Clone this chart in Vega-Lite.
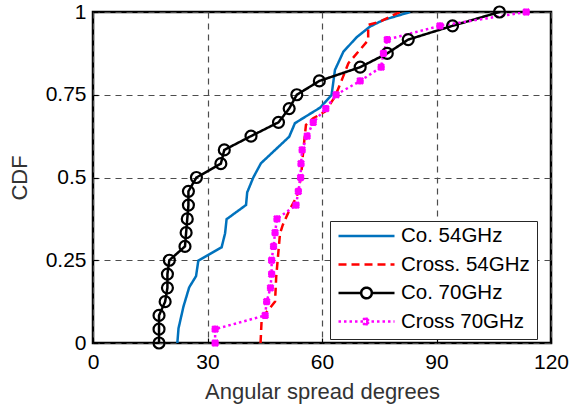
{
  "$schema": "https://vega.github.io/schema/vega-lite/v6.json",
  "width": 458,
  "height": 331,
  "autosize": {"type": "none"},
  "padding": {"left": 93, "top": 12, "right": 18, "bottom": 67},
  "background": "white",
  "config": {
    "font": "Liberation Sans",
    "view": {"stroke": "black", "strokeWidth": 2.5}
  },
  "datasets": {
    "curves": [
      {"series": "Co. 54GHz", "x": 22.1, "y": 0},
      {"series": "Co. 54GHz", "x": 22.4, "y": 0.044},
      {"series": "Co. 54GHz", "x": 23.7, "y": 0.11},
      {"series": "Co. 54GHz", "x": 25.2, "y": 0.168},
      {"series": "Co. 54GHz", "x": 27.0, "y": 0.202},
      {"series": "Co. 54GHz", "x": 27.6, "y": 0.249},
      {"series": "Co. 54GHz", "x": 33.7, "y": 0.289},
      {"series": "Co. 54GHz", "x": 34.6, "y": 0.331},
      {"series": "Co. 54GHz", "x": 35.0, "y": 0.374},
      {"series": "Co. 54GHz", "x": 40.1, "y": 0.417},
      {"series": "Co. 54GHz", "x": 40.4, "y": 0.455},
      {"series": "Co. 54GHz", "x": 42.0, "y": 0.5},
      {"series": "Co. 54GHz", "x": 44.0, "y": 0.543},
      {"series": "Co. 54GHz", "x": 51.4, "y": 0.623},
      {"series": "Co. 54GHz", "x": 52.9, "y": 0.664},
      {"series": "Co. 54GHz", "x": 59.5, "y": 0.711},
      {"series": "Co. 54GHz", "x": 62.5, "y": 0.749},
      {"series": "Co. 54GHz", "x": 63.4, "y": 0.825},
      {"series": "Co. 54GHz", "x": 65.6, "y": 0.88},
      {"series": "Co. 54GHz", "x": 69.1, "y": 0.924},
      {"series": "Co. 54GHz", "x": 72.6, "y": 0.956},
      {"series": "Co. 54GHz", "x": 76.1, "y": 0.976},
      {"series": "Co. 54GHz", "x": 83.1, "y": 1.0},
      {"series": "Cross. 54GHz", "x": 43.9, "y": 0},
      {"series": "Cross. 54GHz", "x": 44.2, "y": 0.075},
      {"series": "Cross. 54GHz", "x": 47.7, "y": 0.125},
      {"series": "Cross. 54GHz", "x": 48.0, "y": 0.2},
      {"series": "Cross. 54GHz", "x": 49.0, "y": 0.331},
      {"series": "Cross. 54GHz", "x": 49.7, "y": 0.356},
      {"series": "Cross. 54GHz", "x": 51.4, "y": 0.4},
      {"series": "Cross. 54GHz", "x": 53.4, "y": 0.442},
      {"series": "Cross. 54GHz", "x": 54.5, "y": 0.5},
      {"series": "Cross. 54GHz", "x": 55.1, "y": 0.583},
      {"series": "Cross. 54GHz", "x": 55.8, "y": 0.659},
      {"series": "Cross. 54GHz", "x": 57.7, "y": 0.679},
      {"series": "Cross. 54GHz", "x": 60.8, "y": 0.699},
      {"series": "Cross. 54GHz", "x": 63.4, "y": 0.744},
      {"series": "Cross. 54GHz", "x": 65.2, "y": 0.795},
      {"series": "Cross. 54GHz", "x": 66.9, "y": 0.845},
      {"series": "Cross. 54GHz", "x": 72.1, "y": 0.915},
      {"series": "Cross. 54GHz", "x": 72.1, "y": 0.961},
      {"series": "Cross. 54GHz", "x": 75.2, "y": 0.971},
      {"series": "Cross. 54GHz", "x": 80.4, "y": 1.0},
      {"series": "Co. 70GHz", "x": 17.3, "y": 0},
      {"series": "Co. 70GHz", "x": 17.3, "y": 0.0417},
      {"series": "Co. 70GHz", "x": 17.3, "y": 0.0833},
      {"series": "Co. 70GHz", "x": 18.9, "y": 0.125},
      {"series": "Co. 70GHz", "x": 19.5, "y": 0.1667},
      {"series": "Co. 70GHz", "x": 19.5, "y": 0.2083},
      {"series": "Co. 70GHz", "x": 20.0, "y": 0.25},
      {"series": "Co. 70GHz", "x": 24.1, "y": 0.2917},
      {"series": "Co. 70GHz", "x": 24.4, "y": 0.3333},
      {"series": "Co. 70GHz", "x": 24.7, "y": 0.375},
      {"series": "Co. 70GHz", "x": 25.0, "y": 0.4167},
      {"series": "Co. 70GHz", "x": 25.0, "y": 0.4583},
      {"series": "Co. 70GHz", "x": 27.1, "y": 0.5},
      {"series": "Co. 70GHz", "x": 33.5, "y": 0.5417},
      {"series": "Co. 70GHz", "x": 34.4, "y": 0.5833},
      {"series": "Co. 70GHz", "x": 41.4, "y": 0.625},
      {"series": "Co. 70GHz", "x": 48.6, "y": 0.6667},
      {"series": "Co. 70GHz", "x": 51.4, "y": 0.7083},
      {"series": "Co. 70GHz", "x": 53.4, "y": 0.75},
      {"series": "Co. 70GHz", "x": 59.3, "y": 0.7917},
      {"series": "Co. 70GHz", "x": 70.0, "y": 0.8333},
      {"series": "Co. 70GHz", "x": 77.1, "y": 0.875},
      {"series": "Co. 70GHz", "x": 82.6, "y": 0.9167},
      {"series": "Co. 70GHz", "x": 94.2, "y": 0.9583},
      {"series": "Co. 70GHz", "x": 106.5, "y": 1.0},
      {"series": "Cross 70GHz", "x": 32.0, "y": 0},
      {"series": "Cross 70GHz", "x": 32.0, "y": 0.0417},
      {"series": "Cross 70GHz", "x": 45.1, "y": 0.0833},
      {"series": "Cross 70GHz", "x": 45.5, "y": 0.125},
      {"series": "Cross 70GHz", "x": 46.5, "y": 0.1667},
      {"series": "Cross 70GHz", "x": 46.8, "y": 0.2083},
      {"series": "Cross 70GHz", "x": 46.8, "y": 0.25},
      {"series": "Cross 70GHz", "x": 47.3, "y": 0.2917},
      {"series": "Cross 70GHz", "x": 47.7, "y": 0.3333},
      {"series": "Cross 70GHz", "x": 48.2, "y": 0.375},
      {"series": "Cross 70GHz", "x": 53.2, "y": 0.4167},
      {"series": "Cross 70GHz", "x": 53.8, "y": 0.4583},
      {"series": "Cross 70GHz", "x": 54.4, "y": 0.5},
      {"series": "Cross 70GHz", "x": 54.5, "y": 0.5417},
      {"series": "Cross 70GHz", "x": 54.8, "y": 0.5833},
      {"series": "Cross 70GHz", "x": 56.1, "y": 0.625},
      {"series": "Cross 70GHz", "x": 57.7, "y": 0.6667},
      {"series": "Cross 70GHz", "x": 61.0, "y": 0.7083},
      {"series": "Cross 70GHz", "x": 63.7, "y": 0.75},
      {"series": "Cross 70GHz", "x": 70.0, "y": 0.7917},
      {"series": "Cross 70GHz", "x": 75.5, "y": 0.8333},
      {"series": "Cross 70GHz", "x": 76.1, "y": 0.875},
      {"series": "Cross 70GHz", "x": 77.1, "y": 0.9167},
      {"series": "Cross 70GHz", "x": 90.9, "y": 0.9583},
      {"series": "Cross 70GHz", "x": 113.5, "y": 1.0}
    ]
  },
  "data": {"name": "curves"},
  "encoding": {
    "x": {
      "field": "x",
      "type": "quantitative",
      "scale": {"domain": [0, 120], "nice": false, "zero": false},
      "axis": {
        "values": [0, 30, 60, 90, 120],
        "title": "Angular spread degrees",
        "grid": true,
        "gridDash": [6, 5],
        "gridColor": "#4d4d4d",
        "gridWidth": 1.2,
        "domain": false,
        "ticks": true,
        "tickSize": -5,
        "tickColor": "black",
        "tickWidth": 1.2,
        "labelFont": "Liberation Sans",
        "labelFontSize": 21,
        "labelColor": "black",
        "labelPadding": 13,
        "labelFlush": false,
        "titleFont": "Liberation Sans",
        "titleFontSize": 22,
        "titleFontWeight": "normal",
        "titleColor": "#333333",
        "titlePadding": 9
      }
    },
    "y": {
      "field": "y",
      "type": "quantitative",
      "scale": {"domain": [0, 1], "nice": false, "zero": false},
      "axis": {
        "values": [0, 0.25, 0.5, 0.75, 1],
        "format": ".2~f",
        "title": "CDF",
        "grid": true,
        "gridDash": [6, 5],
        "gridColor": "#4d4d4d",
        "gridWidth": 1.2,
        "domain": false,
        "ticks": true,
        "tickSize": -5,
        "tickColor": "black",
        "tickWidth": 1.2,
        "labelFont": "Liberation Sans",
        "labelFontSize": 21,
        "labelColor": "black",
        "labelPadding": 12,
        "labelFlush": false,
        "titleFont": "Liberation Sans",
        "titleFontSize": 22,
        "titleFontWeight": "normal",
        "titleColor": "#333333",
        "titlePadding": 14
      }
    }
  },
  "layer": [
    {
      "mark": {"type": "point", "filled": false, "opacity": 0, "strokeWidth": 2.5},
      "encoding": {
        "color": {
          "field": "series",
          "type": "nominal",
          "scale": {
            "domain": ["Co. 54GHz", "Cross. 54GHz", "Co. 70GHz", "Cross 70GHz"],
            "range": ["#0072BD", "#FF0000", "#000000", "#FF00FF"]
          },
          "legend": {
            "title": null,
            "orient": "none",
            "legendX": 237,
            "legendY": 209,
            "symbolSize": 3136,
            "symbolStrokeWidth": 2.5,
            "symbolOpacity": 1,
            "clipHeight": 16,
            "rowPadding": 7.5,
            "padding": 7,
            "labelOffset": 5,
            "labelFont": "Liberation Sans",
            "labelFontSize": 20.5,
            "labelColor": "black",
            "strokeColor": "#262626",
            "fillColor": "white"
          }
        },
        "strokeDash": {
          "field": "series",
          "type": "nominal",
          "scale": {
            "domain": ["Co. 54GHz", "Cross. 54GHz", "Co. 70GHz", "Cross 70GHz"],
            "range": [[1, 0], [8, 5], [1, 0], [2.5, 3]]
          },
          "legend": {"title": null}
        },
        "shape": {
          "field": "series",
          "type": "nominal",
          "scale": {
            "domain": ["Co. 54GHz", "Cross. 54GHz", "Co. 70GHz", "Cross 70GHz"],
            "range": [
              "M-1,0H1",
              "M-1,0H1",
              "M-1,0H-0.19M0.19,0H1M0.19,0A0.19,0.19 0 1 1 -0.19,0A0.19,0.19 0 1 1 0.19,0Z",
              "M-1,0H1M-0.12,-0.12L0.12,0.12M-0.12,0.12L0.12,-0.12M0,-0.14V0.14"
            ]
          },
          "legend": {"title": null}
        }
      }
    },
    {
      "mark": {"type": "line", "strokeWidth": 2.5, "clip": true},
      "encoding": {
        "order": {"field": "y", "type": "quantitative"},
        "color": {"field": "series", "type": "nominal", "legend": null},
        "strokeDash": {"field": "series", "type": "nominal", "legend": null}
      }
    },
    {
      "transform": [{"filter": "datum.series === 'Co. 70GHz'"}],
      "mark": {"type": "point", "shape": "circle", "size": 120, "filled": false, "strokeWidth": 2.2, "opacity": 1},
      "encoding": {
        "color": {"field": "series", "type": "nominal", "legend": null}
      }
    },
    {
      "transform": [{"filter": "datum.series === 'Cross 70GHz'"}],
      "mark": {"type": "point", "shape": "M-1,-1L1,1M-1,1L1,-1M0,-1.2L0,1.2M-1.2,0L1.2,0", "size": 36, "filled": false, "strokeWidth": 2.5, "opacity": 1},
      "encoding": {
        "color": {"field": "series", "type": "nominal", "legend": null}
      }
    }
  ]
}
